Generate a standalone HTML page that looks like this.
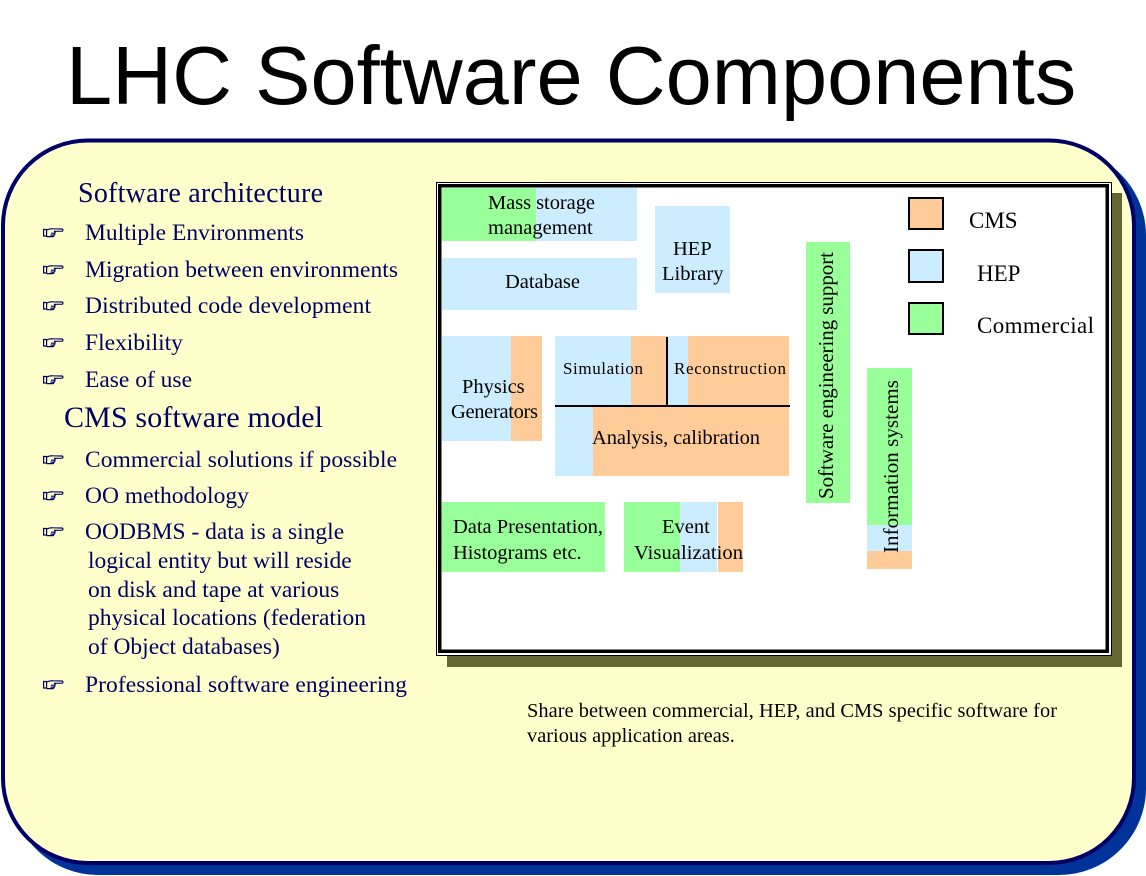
<!DOCTYPE html>
<html>
<head>
<meta charset="utf-8">
<style>
  html,body{margin:0;padding:0;background:#fff;}
  body{width:1146px;height:876px;overflow:hidden;}
  svg{display:block;}
  .serif{font-family:"Liberation Serif","Times New Roman",serif;}
  .nav{fill:#000066;}
  .lbl{font-family:"Liberation Serif","Times New Roman",serif;font-size:20.5px;fill:#000;}
  .hand path{fill:none;stroke:#000066;stroke-width:1.2;}
</style>
</head>
<body>
<svg width="1146" height="876" viewBox="0 0 1146 876" xmlns="http://www.w3.org/2000/svg">
  <!-- Title -->
  <text x="66" y="104" font-family="Liberation Sans, Arial, sans-serif" font-size="83" fill="#000">LHC Software Components</text>

  <!-- Outer rounded panel -->
  <rect x="13" y="150.5" width="1131" height="722.5" rx="85" ry="85" fill="#003399" stroke="#003399" stroke-width="4"/>
  <rect x="3" y="140.5" width="1131" height="722.5" rx="85" ry="85" fill="#FFFFCC" stroke="#000066" stroke-width="4"/>

  <!-- Left text -->
  <g class="serif nav">
    <text x="78" y="202" font-size="28" textLength="245">Software architecture</text>
    <text x="85" y="240" font-size="23.5" textLength="219">Multiple Environments</text>
    <text x="85" y="277" font-size="23.5" textLength="313">Migration between environments</text>
    <text x="85" y="313" font-size="23.5" textLength="286">Distributed code development</text>
    <text x="85" y="350" font-size="23.5">Flexibility</text>
    <text x="85" y="387" font-size="23.5">Ease of use</text>
    <text x="64" y="427" font-size="30" textLength="259">CMS software model</text>
    <text x="85" y="467" font-size="23.5" textLength="312">Commercial solutions if possible</text>
    <text x="85" y="503" font-size="23.5">OO methodology</text>
    <text x="85" y="539" font-size="23.5">OODBMS - data is a single</text>
    <text x="88" y="568" font-size="23.5">logical entity but will reside</text>
    <text x="88" y="597" font-size="23.5">on disk and tape at various</text>
    <text x="88" y="625" font-size="23.5">physical locations (federation</text>
    <text x="88" y="654" font-size="23.5">of Object databases)</text>
    <text x="85" y="692" font-size="23.5" textLength="322">Professional software engineering</text>
  </g>

  <!-- Hand bullets (drawn icons) -->
  <g class="hand">
    <g transform="translate(43,228)"><path d="M0.6,1.5 h3 v6.5 h-3 z"/><path d="M3.6,2 C6,1 8,0.6 10,0.8 L19,1 C20.2,1.3 20.2,3 19,3.2 L11,3.3"/><path d="M11,3.3 C12.6,3.5 12.6,5.1 11,5.2 H8"/><path d="M11,5.2 C12.2,5.5 12.2,7 10.6,7.1 H7.5"/><path d="M10.6,7.1 C11.2,7.6 10.8,8.6 9.6,8.6 H3.6"/></g>
    <g transform="translate(43,265)"><path d="M0.6,1.5 h3 v6.5 h-3 z"/><path d="M3.6,2 C6,1 8,0.6 10,0.8 L19,1 C20.2,1.3 20.2,3 19,3.2 L11,3.3"/><path d="M11,3.3 C12.6,3.5 12.6,5.1 11,5.2 H8"/><path d="M11,5.2 C12.2,5.5 12.2,7 10.6,7.1 H7.5"/><path d="M10.6,7.1 C11.2,7.6 10.8,8.6 9.6,8.6 H3.6"/></g>
    <g transform="translate(43,301)"><path d="M0.6,1.5 h3 v6.5 h-3 z"/><path d="M3.6,2 C6,1 8,0.6 10,0.8 L19,1 C20.2,1.3 20.2,3 19,3.2 L11,3.3"/><path d="M11,3.3 C12.6,3.5 12.6,5.1 11,5.2 H8"/><path d="M11,5.2 C12.2,5.5 12.2,7 10.6,7.1 H7.5"/><path d="M10.6,7.1 C11.2,7.6 10.8,8.6 9.6,8.6 H3.6"/></g>
    <g transform="translate(43,338)"><path d="M0.6,1.5 h3 v6.5 h-3 z"/><path d="M3.6,2 C6,1 8,0.6 10,0.8 L19,1 C20.2,1.3 20.2,3 19,3.2 L11,3.3"/><path d="M11,3.3 C12.6,3.5 12.6,5.1 11,5.2 H8"/><path d="M11,5.2 C12.2,5.5 12.2,7 10.6,7.1 H7.5"/><path d="M10.6,7.1 C11.2,7.6 10.8,8.6 9.6,8.6 H3.6"/></g>
    <g transform="translate(43,375)"><path d="M0.6,1.5 h3 v6.5 h-3 z"/><path d="M3.6,2 C6,1 8,0.6 10,0.8 L19,1 C20.2,1.3 20.2,3 19,3.2 L11,3.3"/><path d="M11,3.3 C12.6,3.5 12.6,5.1 11,5.2 H8"/><path d="M11,5.2 C12.2,5.5 12.2,7 10.6,7.1 H7.5"/><path d="M10.6,7.1 C11.2,7.6 10.8,8.6 9.6,8.6 H3.6"/></g>
    <g transform="translate(43,455)"><path d="M0.6,1.5 h3 v6.5 h-3 z"/><path d="M3.6,2 C6,1 8,0.6 10,0.8 L19,1 C20.2,1.3 20.2,3 19,3.2 L11,3.3"/><path d="M11,3.3 C12.6,3.5 12.6,5.1 11,5.2 H8"/><path d="M11,5.2 C12.2,5.5 12.2,7 10.6,7.1 H7.5"/><path d="M10.6,7.1 C11.2,7.6 10.8,8.6 9.6,8.6 H3.6"/></g>
    <g transform="translate(43,491)"><path d="M0.6,1.5 h3 v6.5 h-3 z"/><path d="M3.6,2 C6,1 8,0.6 10,0.8 L19,1 C20.2,1.3 20.2,3 19,3.2 L11,3.3"/><path d="M11,3.3 C12.6,3.5 12.6,5.1 11,5.2 H8"/><path d="M11,5.2 C12.2,5.5 12.2,7 10.6,7.1 H7.5"/><path d="M10.6,7.1 C11.2,7.6 10.8,8.6 9.6,8.6 H3.6"/></g>
    <g transform="translate(43,527)"><path d="M0.6,1.5 h3 v6.5 h-3 z"/><path d="M3.6,2 C6,1 8,0.6 10,0.8 L19,1 C20.2,1.3 20.2,3 19,3.2 L11,3.3"/><path d="M11,3.3 C12.6,3.5 12.6,5.1 11,5.2 H8"/><path d="M11,5.2 C12.2,5.5 12.2,7 10.6,7.1 H7.5"/><path d="M10.6,7.1 C11.2,7.6 10.8,8.6 9.6,8.6 H3.6"/></g>
    <g transform="translate(43,680)"><path d="M0.6,1.5 h3 v6.5 h-3 z"/><path d="M3.6,2 C6,1 8,0.6 10,0.8 L19,1 C20.2,1.3 20.2,3 19,3.2 L11,3.3"/><path d="M11,3.3 C12.6,3.5 12.6,5.1 11,5.2 H8"/><path d="M11,5.2 C12.2,5.5 12.2,7 10.6,7.1 H7.5"/><path d="M10.6,7.1 C11.2,7.6 10.8,8.6 9.6,8.6 H3.6"/></g>
  </g>

  <!-- Diagram frame -->
  <rect x="447" y="193" width="675" height="474" fill="#666633"/>
  <rect x="436.5" y="182.5" width="675" height="473" fill="#fff" stroke="#000" stroke-width="1"/>
  <rect x="439.75" y="185.75" width="667.5" height="465.5" fill="#fff" stroke="#000" stroke-width="3.5"/>

  <!-- Boxes -->
  <rect x="442" y="188" width="94" height="53" fill="#99FF99"/>
  <rect x="536" y="188" width="101" height="53" fill="#CCECFF"/>
  <rect x="442" y="258" width="195" height="52" fill="#CCECFF"/>
  <rect x="655" y="206" width="75" height="87" fill="#CCECFF"/>
  <rect x="442" y="336" width="69" height="105" fill="#CCECFF"/>
  <rect x="511" y="336" width="31" height="105" fill="#FFCC99"/>

  <rect x="555" y="336" width="76" height="70" fill="#CCECFF"/>
  <rect x="631" y="336" width="37" height="70" fill="#FFCC99"/>
  <rect x="668" y="336" width="20" height="70" fill="#CCECFF"/>
  <rect x="688" y="336" width="101" height="70" fill="#FFCC99"/>
  <rect x="555" y="406" width="38" height="70" fill="#CCECFF"/>
  <rect x="593" y="406" width="196" height="70" fill="#FFCC99"/>
  <line x1="555" y1="406" x2="790" y2="406" stroke="#000" stroke-width="2"/>
  <line x1="667" y1="337" x2="667" y2="407" stroke="#000" stroke-width="2"/>

  <rect x="442" y="502" width="163" height="70" fill="#99FF99"/>
  <rect x="624" y="502" width="56" height="70" fill="#99FF99"/>
  <rect x="680" y="502" width="37" height="70" fill="#CCECFF"/>
  <rect x="718" y="502" width="25" height="70" fill="#FFCC99"/>

  <rect x="806" y="242" width="44" height="261" fill="#99FF99"/>
  <rect x="867" y="368" width="45" height="157" fill="#99FF99"/>
  <rect x="867" y="525" width="45" height="26" fill="#CCECFF"/>
  <rect x="867" y="551" width="45" height="18" fill="#FFCC99"/>

  <!-- Legend -->
  <rect x="909" y="198" width="34" height="31" fill="#FFCC99" stroke="#000" stroke-width="2"/>
  <rect x="909" y="250" width="34" height="32" fill="#CCECFF" stroke="#000" stroke-width="2"/>
  <rect x="909" y="303" width="34" height="31" fill="#99FF99" stroke="#000" stroke-width="2"/>
  <g class="serif" font-size="23" fill="#000">
    <text x="969" y="228">CMS</text>
    <text x="977" y="281">HEP</text>
    <text x="977" y="333" textLength="117">Commercial</text>
  </g>

  <!-- Diagram labels -->
  <g class="lbl">
    <text x="488" y="209" textLength="107">Mass storage</text>
    <text x="488" y="234">management</text>
    <text x="505" y="288" textLength="75">Database</text>
    <text x="673" y="255">HEP</text>
    <text x="662" y="280">Library</text>
    <text x="462" y="393">Physics</text>
    <text x="451" y="418" textLength="87">Generators</text>
    <text x="563" y="374" font-size="17" textLength="80">Simulation</text>
    <text x="674" y="374" font-size="17" textLength="112">Reconstruction</text>
    <text x="592" y="444" textLength="168">Analysis, calibration</text>
    <text x="453" y="533" textLength="150">Data Presentation,</text>
    <text x="453" y="559">Histograms etc.</text>
    <text x="662" y="533">Event</text>
    <text x="634" y="559" textLength="109">Visualization</text>
    <text transform="translate(833,499) rotate(-90)" font-size="21" textLength="247">Software engineering support</text>
    <text transform="translate(898,553) rotate(-90)" font-size="21" textLength="173">Information systems</text>
  </g>

  <!-- Caption -->
  <g class="serif" font-size="20.4" fill="#000">
    <text x="527" y="717" textLength="530">Share between commercial, HEP, and CMS specific software for</text>
    <text x="527" y="742">various application areas.</text>
  </g>
</svg>
</body>
</html>
